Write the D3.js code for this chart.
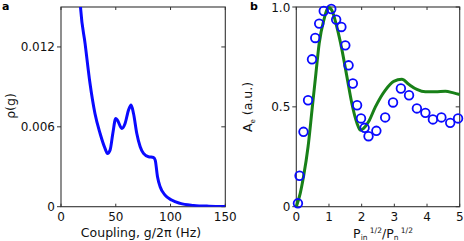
<!DOCTYPE html>
<html><head><meta charset="utf-8">
<script src="https://cdn.jsdelivr.net/npm/d3@7"></script>
<style>body{margin:0;background:#fff}svg{display:block;font-family:"DejaVu Sans",Verdana,sans-serif}</style>
</head><body>
<script>
// Panel a: coupling distribution rho(g)
const aX = [16,18,22,26.5,31,35.7,40.2,42.4,44.8,47.3,50,51.5,55.5,58.5,61.6,64,66.2,69.2,72.3,75.3,79.9,84.5,86,88.1,90.5,95,101,108.8,121,135,150];
const aY = [0.0175,0.0148,0.01225,0.00925,0.0070,0.0055,0.00438,0.0040,0.00425,0.0055,0.00663,0.0065,0.00588,0.00625,0.00725,0.00763,0.0070,0.0055,0.0045,0.0040,0.00375,0.0037,0.0035,0.00225,0.0015,0.000875,0.0005,0.00025,0.0001,0.00004,0.00002];
const aXTicks = [0,50,100,150];
const aYTicks = [0,0.006,0.012];
const aYTickLabels = ["0","0.006","0.012"];

// Panel b: measured amplitude (circles) and model (line)
const bPtsX = [0.05,0.1,0.22,0.36,0.48,0.58,0.70,0.84,1.07,1.22,1.38,1.5,1.6,1.73,1.86,1.98,2.09,2.21,2.45,2.72,2.96,3.2,3.45,3.69,3.95,4.18,4.44,4.71,4.95];
const bPtsY = [0.017,0.155,0.375,0.533,0.738,0.845,0.917,0.98,0.99,0.937,0.9,0.808,0.708,0.617,0.508,0.442,0.395,0.353,0.38,0.447,0.522,0.592,0.558,0.492,0.47,0.437,0.447,0.42,0.442];
const bLineX = [0,0.12,0.22,0.36,0.48,0.6,0.7,0.84,0.99,1.09,1.24,1.4,1.55,1.7,1.86,1.96,2.06,2.21,2.42,2.72,2.98,3.23,3.44,3.69,3.95,4.26,4.56,4.81,5];
const bLineY = [0,0.067,0.15,0.3,0.483,0.667,0.817,0.933,0.997,0.983,0.9,0.783,0.65,0.517,0.417,0.383,0.392,0.425,0.5,0.583,0.628,0.638,0.613,0.587,0.575,0.575,0.578,0.57,0.562];
const bXTicks = [0,1,2,3,4,5];
const bYTicks = [0,0.5,1];
const bYTickLabels = ["0","0.5","1.0"];

const W = 464, H = 241;
const svg = d3.select("body").append("svg").attr("width", W).attr("height", H);
const frame = "#333";

function panel(x, y, xTicks, yTicks, yLabels, clipId) {
  const [x0, x1] = x.range(), [y0, y1] = y.range();
  const g = svg.append("g");
  g.append("clipPath").attr("id", clipId).append("rect")
    .attr("x", x0).attr("y", y1).attr("width", x1 - x0).attr("height", y0 - y1);
  // frame
  g.append("rect").attr("x", x0).attr("y", y1).attr("width", x1 - x0).attr("height", y0 - y1)
    .attr("fill", "none").attr("stroke", frame).attr("stroke-width", 1.1);
  // left axis: outward ticks
  xTicks.forEach(t => {
    const px = x(t);
    g.append("line").attr("x1", px).attr("x2", px).attr("y1", y0).attr("y2", y0 - 3).attr("stroke", frame);
    g.append("line").attr("x1", px).attr("x2", px).attr("y1", y1).attr("y2", y1 + 3).attr("stroke", frame);
    g.append("text").attr("x", px).attr("y", y0 + 14).attr("text-anchor", "middle")
      .attr("font-size", 12).attr("fill", "#111").text(t);
  });
  yTicks.forEach((t, i) => {
    const py = y(t);
    g.append("line").attr("x1", x0).attr("x2", x0 - 4).attr("y1", py).attr("y2", py).attr("stroke", frame);
    g.append("line").attr("x1", x1).attr("x2", x1 - 4).attr("y1", py).attr("y2", py).attr("stroke", frame);
    g.append("text").attr("x", x0 - 6).attr("y", py + 4.5).attr("text-anchor", "end")
      .attr("font-size", 12).attr("fill", "#111").text(yLabels[i]);
  });
  return g;
}

// Panel a
const xa = d3.scaleLinear().domain([0, 150]).range([61, 225.3]);
const ya = d3.scaleLinear().domain([0, 0.015]).range([206.7, 7]);
const ga = panel(xa, ya, aXTicks, aYTicks, aYTickLabels, "clipA");
ga.append("path").datum(aX.map((v, i) => [v, aY[i]]))
  .attr("clip-path", "url(#clipA)")
  .attr("d", d3.line().x(d => xa(d[0])).y(d => ya(d[1])).curve(d3.curveMonotoneX))
  .attr("fill", "none").attr("stroke", "#0a0aff").attr("stroke-width", 3);
svg.append("text").attr("x", 2).attr("y", 10).attr("font-size", 11).attr("font-weight", "bold").text("a");
svg.append("text").attr("transform", "translate(15,106) rotate(-90)").attr("text-anchor", "middle")
  .attr("font-size", 12.5).attr("fill", "#111").text("ρ(g)");
svg.append("text").attr("x", 141).attr("y", 237).attr("text-anchor", "middle")
  .attr("font-size", 12.5).attr("fill", "#111").text("Coupling, g/2π (Hz)");

// Panel b
const xb = d3.scaleLinear().domain([0, 5]).range([296.3, 459.7]);
const yb = d3.scaleLinear().domain([0, 1]).range([206.7, 7]);
const gb = panel(xb, yb, bXTicks, bYTicks, bYTickLabels, "clipB");
gb.append("path").datum(bLineX.map((v, i) => [v, bLineY[i]]))
  .attr("d", d3.line().x(d => xb(d[0])).y(d => yb(d[1])).curve(d3.curveMonotoneX))
  .attr("fill", "none").attr("stroke", "#188018").attr("stroke-width", 3);
gb.selectAll("circle.pt").data(bPtsX.map((v, i) => [v, bPtsY[i]])).enter().append("circle")
  .attr("cx", d => xb(d[0])).attr("cy", d => yb(d[1])).attr("r", 4.3)
  .attr("fill", "none").attr("stroke", "#0a0aff").attr("stroke-width", 1.8);
svg.append("text").attr("x", 250).attr("y", 10).attr("font-size", 11).attr("font-weight", "bold").text("b");
const yl = svg.append("text").attr("transform", "translate(252,107) rotate(-90)").attr("text-anchor", "middle")
  .attr("font-size", 12.5).attr("fill", "#111");
yl.append("tspan").text("A");
yl.append("tspan").attr("font-size", 7).attr("dy", 3).text("e");
yl.append("tspan").attr("dy", -3).text(" (a.u.)");
const xl = svg.append("text").attr("x", 383).attr("y", 238).attr("text-anchor", "middle")
  .attr("font-size", 12.5).attr("fill", "#111");
xl.append("tspan").text("P");
xl.append("tspan").attr("font-size", 7.5).attr("dy", 2).text("in");
xl.append("tspan").attr("font-size", 7.5).attr("dy", -7).text(" 1/2");
xl.append("tspan").attr("dy", 5).text("/P");
xl.append("tspan").attr("font-size", 7.5).attr("dy", 2).text("n");
xl.append("tspan").attr("font-size", 7.5).attr("dy", -7).text(" 1/2");
</script>
</body></html>
